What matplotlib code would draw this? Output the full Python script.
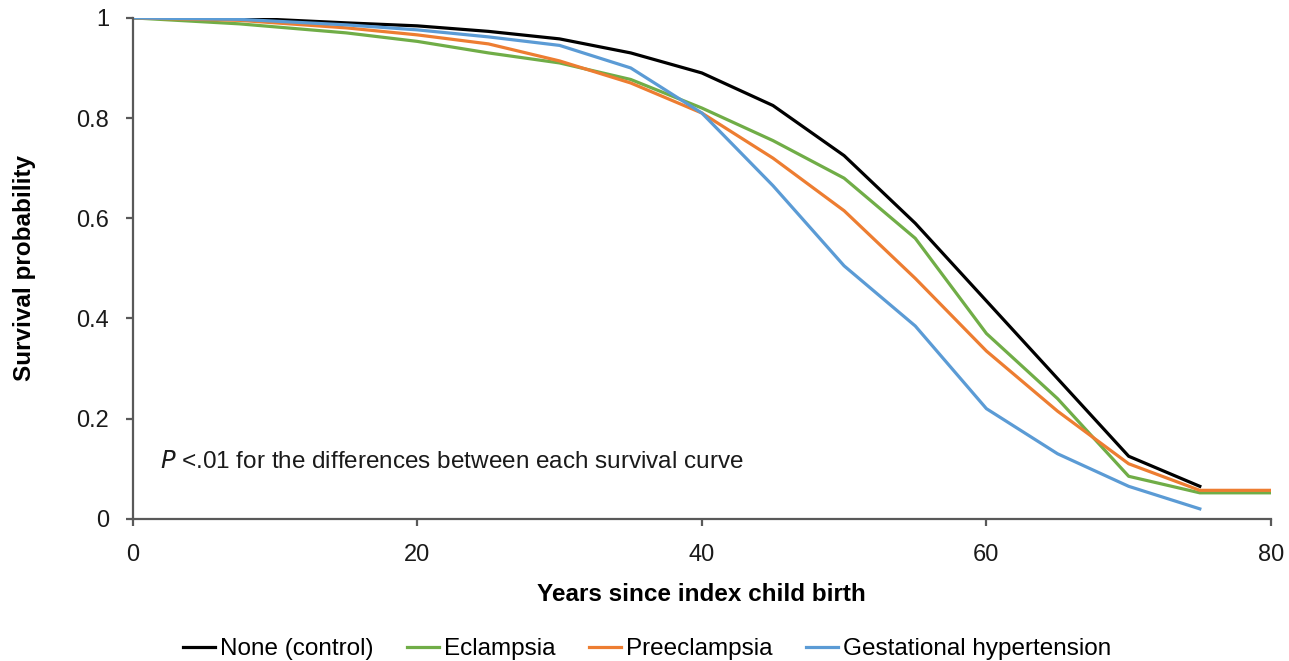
import matplotlib.pyplot as plt
import numpy as np

plt.rcParams['font.family'] = ['Liberation Sans', 'DejaVu Sans']

# survival data
years = [0, 7.5, 15, 20, 25, 30, 35, 40, 45, 50, 55, 60, 65, 70, 75, 80]
none_control = [1.0, 1.0, 0.99, 0.984, 0.973, 0.958, 0.93, 0.89, 0.825, 0.725, 0.59, 0.435, 0.28, 0.125, 0.065]
eclampsia = [1.0, 0.988, 0.97, 0.953, 0.93, 0.91, 0.877, 0.82, 0.755, 0.68, 0.56, 0.37, 0.24, 0.085, 0.052, 0.052]
preeclampsia = [1.0, 0.995, 0.98, 0.966, 0.948, 0.914, 0.87, 0.81, 0.72, 0.615, 0.48, 0.335, 0.215, 0.11, 0.057, 0.057]
gest_hyper = [1.0, 0.997, 0.986, 0.976, 0.962, 0.945, 0.9, 0.81, 0.665, 0.505, 0.385, 0.22, 0.13, 0.065, 0.02]

fig = plt.figure(figsize=(12.89, 6.61), dpi=100)
ax = fig.add_axes([0.103, 0.215, 0.883, 0.758])

lw = 2.3
ax.plot(years[:len(none_control)], none_control, color='black', lw=lw, label='None (control)')
ax.plot(years[:len(eclampsia)], eclampsia, color='#70ad47', lw=lw, label='Eclampsia')
ax.plot(years[:len(preeclampsia)], preeclampsia, color='#ed7d31', lw=lw, label='Preeclampsia')
ax.plot(years[:len(gest_hyper)], gest_hyper, color='#5b9bd5', lw=lw, label='Gestational hypertension')

ax.set_xlim(0, 80)
ax.set_ylim(0, 1)
ax.set_xticks([0, 20, 40, 60, 80])
ax.set_yticks([0, 0.2, 0.4, 0.6, 0.8, 1])
ax.set_yticklabels(['0', '0.2', '0.4', '0.6', '0.8', '1'])

for s in ['top', 'right']:
    ax.spines[s].set_visible(False)
for s in ['left', 'bottom']:
    ax.spines[s].set_color('#595959')
    ax.spines[s].set_linewidth(1.6)
ax.tick_params(axis='both', labelsize=17, color='#595959', width=1.6, length=5,
               labelcolor='#1a1a1a')
ax.tick_params(axis='x', pad=13)
ax.tick_params(axis='y', pad=12)

ax.set_xlabel('Years since index child birth', fontsize=17.5, fontweight='bold')
ax.set_ylabel('Survival probability', fontsize=17.5, fontweight='bold')
ax.xaxis.set_label_coords(0.5, -0.128)
ax.yaxis.set_label_coords(-0.085, 0.5)

ax.text(1.9, 0.113, r'$\it{P}$ <.01 for the differences between each survival curve',
        fontsize=17.5, va='center', color='#1a1a1a')

fig.legend(loc='center', bbox_to_anchor=(0.502, 0.018), ncol=4, frameon=False,
           fontsize=17.5, handlelength=1.3, handletextpad=0.2, columnspacing=1.4)

fig.savefig('out.png', dpi=100)
